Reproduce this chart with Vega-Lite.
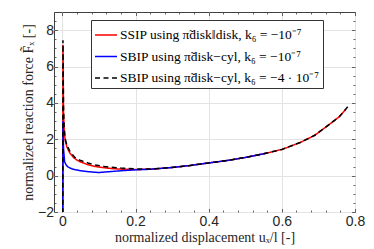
{
  "$schema": "https://vega.github.io/schema/vega-lite/v6.json",
  "width": 301,
  "height": 200,
  "autosize": {"type": "none"},
  "padding": {"left": 54, "top": 12, "right": 19, "bottom": 37},
  "background": "white",
  "config": {
    "view": {"stroke": "#404040", "strokeWidth": 1},
    "axis": {
      "labelFont": "Liberation Sans",
      "labelFontSize": 14,
      "labelColor": "#262626",
      "titleFont": "Liberation Serif",
      "titleFontSize": 14,
      "titleFontWeight": "normal",
      "titleColor": "#262626",
      "domain": false,
      "tickColor": "#404040",
      "tickWidth": 0.8,
      "gridColor": "#e3e3e3",
      "gridWidth": 1
    }
  },
  "datasets": {
    "d": [
      {"s": "A", "x": 0.001, "y": -3},
      {"s": "A", "x": 0.0015, "y": 7.2},
      {"s": "A", "x": 0.003, "y": 3.5},
      {"s": "A", "x": 0.005, "y": 2.4},
      {"s": "A", "x": 0.008, "y": 1.9},
      {"s": "A", "x": 0.012, "y": 1.6},
      {"s": "A", "x": 0.015, "y": 1.45},
      {"s": "A", "x": 0.02, "y": 1.25},
      {"s": "A", "x": 0.03, "y": 1.0},
      {"s": "A", "x": 0.04, "y": 0.85},
      {"s": "A", "x": 0.05, "y": 0.75},
      {"s": "A", "x": 0.07, "y": 0.6},
      {"s": "A", "x": 0.09, "y": 0.5},
      {"s": "A", "x": 0.115, "y": 0.43},
      {"s": "A", "x": 0.14, "y": 0.38},
      {"s": "A", "x": 0.17, "y": 0.35},
      {"s": "A", "x": 0.2, "y": 0.34},
      {"s": "A", "x": 0.24, "y": 0.35},
      {"s": "A", "x": 0.3, "y": 0.45},
      {"s": "A", "x": 0.35, "y": 0.56},
      {"s": "A", "x": 0.4, "y": 0.7},
      {"s": "A", "x": 0.45, "y": 0.83},
      {"s": "A", "x": 0.5, "y": 1.0},
      {"s": "A", "x": 0.55, "y": 1.2},
      {"s": "A", "x": 0.6, "y": 1.44},
      {"s": "A", "x": 0.65, "y": 1.82},
      {"s": "A", "x": 0.69, "y": 2.22},
      {"s": "A", "x": 0.73, "y": 2.82},
      {"s": "A", "x": 0.757, "y": 3.24},
      {"s": "A", "x": 0.775, "y": 3.66},
      {"s": "B", "x": 0.001, "y": -3},
      {"s": "B", "x": 0.0015, "y": 3.0},
      {"s": "B", "x": 0.003, "y": 1.5},
      {"s": "B", "x": 0.006, "y": 0.76},
      {"s": "B", "x": 0.01, "y": 0.6},
      {"s": "B", "x": 0.015, "y": 0.48},
      {"s": "B", "x": 0.025, "y": 0.38},
      {"s": "B", "x": 0.034, "y": 0.33},
      {"s": "B", "x": 0.05, "y": 0.27},
      {"s": "B", "x": 0.07, "y": 0.22},
      {"s": "B", "x": 0.1, "y": 0.17},
      {"s": "B", "x": 0.13, "y": 0.22},
      {"s": "B", "x": 0.16, "y": 0.27},
      {"s": "B", "x": 0.2, "y": 0.32},
      {"s": "B", "x": 0.24, "y": 0.35},
      {"s": "B", "x": 0.3, "y": 0.45},
      {"s": "B", "x": 0.35, "y": 0.56},
      {"s": "B", "x": 0.4, "y": 0.7},
      {"s": "B", "x": 0.45, "y": 0.83},
      {"s": "B", "x": 0.5, "y": 1.0},
      {"s": "B", "x": 0.56, "y": 1.24},
      {"s": "C", "x": 0.001, "y": -3},
      {"s": "C", "x": 0.0015, "y": 7.45},
      {"s": "C", "x": 0.003, "y": 3.8},
      {"s": "C", "x": 0.005, "y": 2.6},
      {"s": "C", "x": 0.008, "y": 2.0},
      {"s": "C", "x": 0.012, "y": 1.7},
      {"s": "C", "x": 0.02, "y": 1.35},
      {"s": "C", "x": 0.034, "y": 1.0},
      {"s": "C", "x": 0.05, "y": 0.83},
      {"s": "C", "x": 0.07, "y": 0.7},
      {"s": "C", "x": 0.09, "y": 0.58},
      {"s": "C", "x": 0.115, "y": 0.5},
      {"s": "C", "x": 0.16, "y": 0.42},
      {"s": "C", "x": 0.2, "y": 0.37},
      {"s": "C", "x": 0.24, "y": 0.36},
      {"s": "C", "x": 0.3, "y": 0.45},
      {"s": "C", "x": 0.35, "y": 0.56},
      {"s": "C", "x": 0.4, "y": 0.7},
      {"s": "C", "x": 0.45, "y": 0.83},
      {"s": "C", "x": 0.5, "y": 1.0},
      {"s": "C", "x": 0.55, "y": 1.2},
      {"s": "C", "x": 0.6, "y": 1.44},
      {"s": "C", "x": 0.65, "y": 1.82},
      {"s": "C", "x": 0.69, "y": 2.22},
      {"s": "C", "x": 0.73, "y": 2.82},
      {"s": "C", "x": 0.757, "y": 3.24},
      {"s": "C", "x": 0.775, "y": 3.66},
      {"s": "C", "x": 0.783, "y": 3.87}
    ]
  },
  "data": {"name": "d"},
  "transform": [
    {"calculate": "datum.s === 'A' ? 'SSIP using π̃disk‖disk, k₆ = −10⁻⁷' : datum.s === 'B' ? 'SBIP using π̃disk−cyl, k₆ = −10⁻⁷' : 'SBIP using π̃disk−cyl, k₆ = −4 · 10⁻⁷'", "as": "series"}
  ],
  "layer": [
    {
      "transform": [{"filter": "datum.s === 'A'"}],
      "mark": {"type": "line", "strokeWidth": 1.5, "clip": true},
      "encoding": {
        "x": {"field": "x", "type": "quantitative", "scale": {"domain": [-0.023, 0.8], "nice": false, "zero": false},
          "axis": {"orient": "bottom", "title": "normalized displacement uₓ/l [-]", "values": [0, 0.04, 0.08, 0.12, 0.16, 0.2, 0.24, 0.28, 0.32, 0.36, 0.4, 0.44, 0.48, 0.52, 0.56, 0.6, 0.64, 0.68, 0.72, 0.76, 0.8],
            "labelExpr": "abs(round(datum.value*5)/5 - datum.value) < 1e-6 ? format(datum.value, '.1~f') : ''",
            "gridOpacity": {"condition": {"test": "abs(round(datum.value*5)/5 - datum.value) < 1e-6", "value": 1}, "value": 0},
            "tickSize": {"condition": {"test": "abs(round(datum.value*5)/5 - datum.value) < 1e-6", "value": -3.5}, "value": -2},
            "labelPadding": 6, "titlePadding": 2, "labelFlush": false}},
        "y": {"field": "y", "type": "quantitative", "scale": {"domain": [-2, 9], "nice": false, "zero": false},
          "axis": {"orient": "left", "title": "normalized reaction force F̃ₓ [-]", "values": [-2, -1.5, -1, -0.5, 0, 0.5, 1, 1.5, 2, 2.5, 3, 3.5, 4, 4.5, 5, 5.5, 6, 6.5, 7, 7.5, 8, 8.5, 9],
            "labelExpr": "abs(round(datum.value/2)*2 - datum.value) < 1e-6 && datum.value < 9 ? format(datum.value, 'd') : ''",
            "gridOpacity": {"condition": {"test": "abs(round(datum.value/2)*2 - datum.value) < 1e-6", "value": 1}, "value": 0},
            "tickSize": {"condition": {"test": "abs(round(datum.value/2)*2 - datum.value) < 1e-6", "value": -3.5}, "value": -2},
            "labelPadding": 4, "titlePadding": 2, "labelFlush": false}},
        "color": {"field": "series", "type": "nominal",
          "scale": {"domain": ["SSIP using π̃disk‖disk, k₆ = −10⁻⁷", "SBIP using π̃disk−cyl, k₆ = −10⁻⁷", "SBIP using π̃disk−cyl, k₆ = −4 · 10⁻⁷"], "range": ["#ff0000", "#0000ff", "#000000"]},
          "legend": {"title": null, "orient": "none", "legendX": 37, "legendY": 8, "direction": "vertical",
            "labelFont": "Liberation Serif", "labelFontSize": 13.5, "labelColor": "#000000", "labelLimit": 400,
            "symbolType": "stroke", "symbolSize": 484, "symbolStrokeWidth": 1.5,
            "strokeColor": "#333333", "fillColor": "white", "padding": 3, "rowPadding": 2.5, "labelOffset": 2}},
        "strokeDash": {"field": "series", "type": "nominal",
          "scale": {"domain": ["SSIP using π̃disk‖disk, k₆ = −10⁻⁷", "SBIP using π̃disk−cyl, k₆ = −10⁻⁷", "SBIP using π̃disk−cyl, k₆ = −4 · 10⁻⁷"], "range": [[1, 0], [1, 0], [5, 3.5]]},
          "legend": {"title": null, "orient": "none", "legendX": 37, "legendY": 8}}
      }
    },
    {
      "transform": [{"filter": "datum.s === 'B'"}],
      "mark": {"type": "line", "strokeWidth": 1.5, "clip": true},
      "encoding": {
        "x": {"field": "x", "type": "quantitative", "axis": null},
        "y": {"field": "y", "type": "quantitative", "axis": null},
        "color": {"field": "series", "type": "nominal"},
        "strokeDash": {"field": "series", "type": "nominal"}
      }
    },
    {
      "transform": [{"filter": "datum.s === 'C'"}],
      "mark": {"type": "line", "strokeWidth": 1.5, "clip": true},
      "encoding": {
        "x": {"field": "x", "type": "quantitative", "axis": null},
        "y": {"field": "y", "type": "quantitative", "axis": null},
        "color": {"field": "series", "type": "nominal"},
        "strokeDash": {"field": "series", "type": "nominal"}
      }
    },
    {
      "transform": [{"filter": "datum.s === 'C'"}],
      "mark": {"type": "point", "opacity": 0},
      "encoding": {
        "x": {"field": "x", "type": "quantitative",
          "axis": {"orient": "top", "title": null, "labels": false, "grid": false, "values": [0, 0.04, 0.08, 0.12, 0.16, 0.2, 0.24, 0.28, 0.32, 0.36, 0.4, 0.44, 0.48, 0.52, 0.56, 0.6, 0.64, 0.68, 0.72, 0.76, 0.8],
            "tickSize": {"condition": {"test": "abs(round(datum.value*5)/5 - datum.value) < 1e-6", "value": -3.5}, "value": -2}}},
        "y": {"field": "y", "type": "quantitative",
          "axis": {"orient": "right", "title": null, "labels": false, "grid": false, "values": [-2, -1.5, -1, -0.5, 0, 0.5, 1, 1.5, 2, 2.5, 3, 3.5, 4, 4.5, 5, 5.5, 6, 6.5, 7, 7.5, 8, 8.5, 9],
            "tickSize": {"condition": {"test": "abs(round(datum.value/2)*2 - datum.value) < 1e-6", "value": -3.5}, "value": -2}}}
      }
    }
  ],
  "resolve": {"axis": {"x": "independent", "y": "independent"}}
}
